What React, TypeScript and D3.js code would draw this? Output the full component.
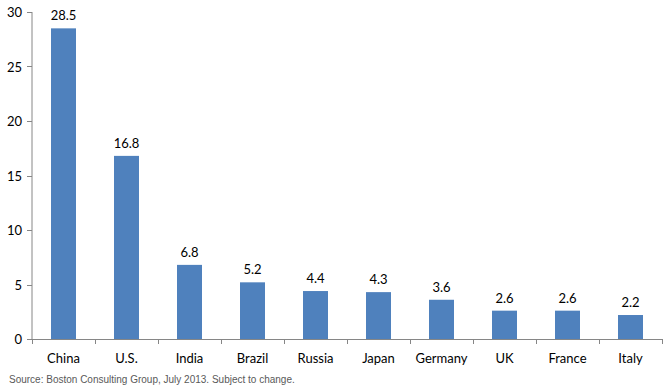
import React from "react";
import * as d3 from "d3";

const countries = ["China", "U.S.", "India", "Brazil", "Russia", "Japan", "Germany", "UK", "France", "Italy"];
const values = [28.5, 16.8, 6.8, 5.2, 4.4, 4.3, 3.6, 2.6, 2.6, 2.2];
const yTicks = [0, 5, 10, 15, 20, 25, 30];

const width = 666;
const height = 389;
const left = 32;
const right = 662;
const top = 12;
const bottom = 339;
const font = "Lato, 'Open Sans', sans-serif";

function App() {
  const x = d3.scaleBand<string>().domain(countries).range([left, right]).paddingInner(0).paddingOuter(0);
  const y = d3.scaleLinear().domain([0, 30]).range([bottom, top]);
  const barW = 25;
  const tickXs = countries.map((c) => x(c)!).concat([right]);

  return (
    <svg width={width} height={height} style={{ position: "absolute", left: 0, top: 0 }}>
      {countries.map((c, i) => {
        const cx = x(c)! + x.bandwidth() / 2;
        return (
          <g key={c}>
            <rect x={cx - barW / 2} y={y(values[i])} width={barW} height={bottom - y(values[i])} fill="#4f81bd" />
            <text x={cx} y={y(values[i]) - 8} textAnchor="middle" fontFamily={font} fontSize={13} fill="#000">
              {values[i].toFixed(1)}
            </text>
            <text x={cx} y={363} textAnchor="middle" fontFamily={font} fontSize={13} fill="#000">
              {c}
            </text>
          </g>
        );
      })}
      <line x1={left} x2={left} y1={top} y2={bottom} stroke="#868686" />
      <line x1={left} x2={right} y1={bottom + 0.5} y2={bottom + 0.5} stroke="#868686" />
      {yTicks.map((t) => (
        <g key={t}>
          <line x1={left - 5} x2={left} y1={Math.round(y(t)) + 0.5} y2={Math.round(y(t)) + 0.5} stroke="#868686" />
          <text x={22} y={y(t) + 5} textAnchor="end" fontFamily={font} fontSize={13} fill="#000">
            {t}
          </text>
        </g>
      ))}
      {tickXs.map((tx, i) => (
        <line key={i} x1={tx + 0.5} x2={tx + 0.5} y1={bottom} y2={bottom + 5} stroke="#868686" />
      ))}
      <text x={9} y={383} fontFamily="Arial, 'Liberation Sans', sans-serif" fontSize={10} fill="#595959">
        Source: Boston Consulting Group, July 2013. Subject to change.
      </text>
    </svg>
  );
}

export default App;
